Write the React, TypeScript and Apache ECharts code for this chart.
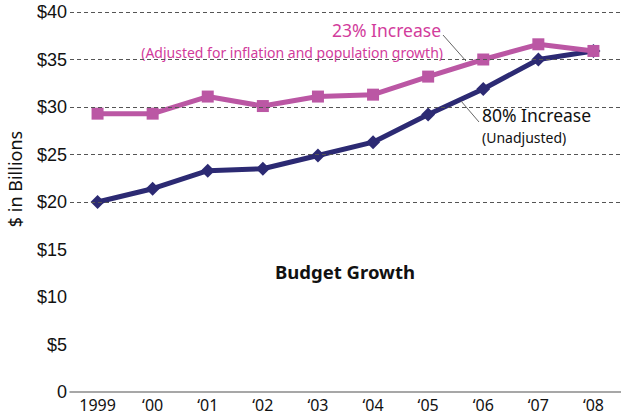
import React, { useEffect, useRef } from "react";
import * as echarts from "echarts";

const categories = ["1999", "\u201800", "\u201801", "\u201802", "\u201803", "\u201804", "\u201805", "\u201806", "\u201807", "\u201808"];
const unadjusted = [20.0, 21.4, 23.3, 23.5, 24.9, 26.3, 29.2, 31.9, 35.0, 35.9];
const adjusted = [29.3, 29.3, 31.1, 30.1, 31.1, 31.3, 33.2, 35.0, 36.6, 35.9];
const yTicks = [0, 5, 10, 15, 20, 25, 30, 35, 40];
const gridTicks = [20, 25, 30, 35, 40];

export default function App() {
  const ref = useRef<HTMLDivElement>(null);
  useEffect(() => {
    document.body.style.margin = "0";
    const chart = echarts.init(ref.current!, null, { renderer: "svg" });
    const sans = "'Noto Sans', 'Open Sans', sans-serif";
    chart.setOption({
      animation: false,
      grid: { left: 70, top: 12, width: 555, bottom: 25, containLabel: false },
      xAxis: {
        type: "category",
        data: categories,
        boundaryGap: true,
        axisLine: { lineStyle: { color: "#8a8a8a", width: 1.5 } },
        axisTick: { show: false },
        axisLabel: { color: "#111", fontFamily: sans, fontSize: 16, margin: 5 },
      },
      yAxis: {
        type: "value",
        min: yTicks[0],
        max: yTicks[yTicks.length - 1],
        interval: 5,
        axisLine: { show: false },
        axisTick: { show: false },
        axisLabel: {
          color: "#111",
          fontFamily: "'Liberation Sans', Arial, sans-serif",
          fontSize: 18,
          margin: 3,
          formatter: (v: number) => (v === 0 ? "0" : "$" + v),
        },
        splitLine: { show: false },
      },
      series: [
        {
          type: "line",
          data: [],
          silent: true,
          z: 1,
          markLine: {
            silent: true,
            symbol: "none",
            label: { show: false },
            lineStyle: { color: "#555", width: 1, type: [4, 3] },
            data: gridTicks.map((v) => ({ yAxis: v })),
          },
        },
        {
          type: "line",
          data: unadjusted,
          symbol: "diamond",
          symbolSize: 14,
          lineStyle: { color: "#2c2a73", width: 5 },
          itemStyle: { color: "#2c2a73" },
          z: 2,
        },
        {
          type: "line",
          data: adjusted,
          symbol: "rect",
          symbolSize: 12,
          lineStyle: { color: "#bb57a4", width: 5 },
          itemStyle: { color: "#bb57a4" },
          z: 3,
        },
      ],
      graphic: [
        {
          type: "text",
          x: 15,
          y: 179,
          rotation: Math.PI / 2,
          style: { text: "$ in Billions", fontFamily: sans, fontSize: 18, fill: "#111", align: "center", verticalAlign: "middle" },
        },
        {
          type: "text",
          x: 441,
          y: 30,
          style: { text: "23% Increase", fontFamily: sans, fontSize: 17.5, fill: "#d23c9c", align: "right", verticalAlign: "middle" },
        },
        {
          type: "text",
          x: 443,
          y: 52,
          style: { text: "(Adjusted for inflation and population growth)", fontFamily: sans, fontSize: 14, fill: "#d23c9c", align: "right", verticalAlign: "middle" },
        },
        {
          type: "text",
          x: 482,
          y: 115,
          style: { text: "80% Increase", fontFamily: sans, fontSize: 17.5, fill: "#111", align: "left", verticalAlign: "middle" },
        },
        {
          type: "text",
          x: 482,
          y: 137,
          style: { text: "(Unadjusted)", fontFamily: sans, fontSize: 14, fill: "#111", align: "left", verticalAlign: "middle" },
        },
        {
          type: "text",
          x: 345,
          y: 271,
          style: { text: "Budget Growth", fontFamily: sans, fontSize: 18.5, fontWeight: "bold", fill: "#111", align: "center", verticalAlign: "middle" },
        },
        {
          type: "line",
          shape: { x1: 443, y1: 35, x2: 466, y2: 61 },
          style: { stroke: "#666", lineWidth: 1 },
          z: 10,
        },
        {
          type: "line",
          shape: { x1: 461, y1: 101, x2: 479, y2: 122 },
          style: { stroke: "#666", lineWidth: 1 },
          z: 10,
        },
      ],
    });
    return () => chart.dispose();
  }, []);
  return <div ref={ref} style={{ width: 621, height: 417 }} />;
}
